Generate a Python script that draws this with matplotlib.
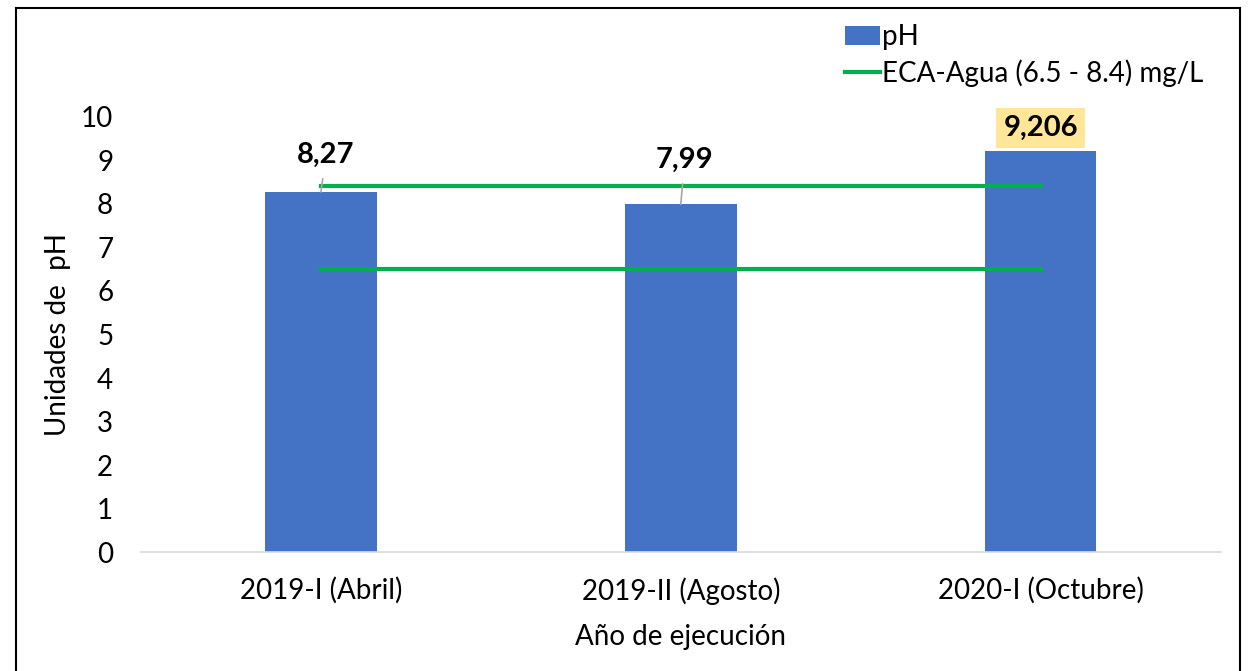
import matplotlib.pyplot as plt
from matplotlib.lines import Line2D

plt.rcParams['font.family'] = ['Lato', 'DejaVu Sans']

categories = ["2019-I (Abril)", "2019-II (Agosto)", "2020-I (Octubre)"]
ph_values = [8.27, 7.99, 9.206]
value_labels = ["8,27", "7,99", "9,206"]
eca_min = 6.5
eca_max = 8.4
y_ticks = list(range(0, 11))

BLUE = "#4472C4"
GREEN = "#00B050"

fig = plt.figure(figsize=(12.48, 6.71), dpi=100)
ax = fig.add_axes([0.113, 0.177, 0.865, 0.649])

x = list(range(len(categories)))
ax.bar(x, ph_values, width=0.31, color=BLUE, label="pH", zorder=2)

# ECA limits, from first to last category centre
ax.plot([x[0], x[-1]], [eca_max, eca_max], color=GREEN, lw=3,
        label="ECA-Agua (6.5 - 8.4) mg/L", zorder=3)
ax.plot([x[0], x[-1]], [eca_min, eca_min], color=GREEN, lw=3, zorder=3)

ax.set_xlim(-0.5, 2.5)
ax.set_ylim(0, 10)
ax.set_yticks(y_ticks)
ax.set_xticks(x)
ax.set_xticklabels(categories)
ax.tick_params(axis="both", length=0, labelsize=20, colors="#000000")
ax.tick_params(axis="y", pad=20)
ax.tick_params(axis="x", pad=18)
for side in ("top", "right", "left"):
    ax.spines[side].set_visible(False)
ax.spines["bottom"].set_color("#D9D9D9")
ax.spines["bottom"].set_linewidth(1.2)

ax.set_xlabel("Año de ejecución", fontsize=20, labelpad=14)
ax.set_ylabel("Unidades de  pH", fontsize=20, labelpad=7)

# data labels: first two with leader lines, last one highlighted
ax.annotate(value_labels[0], xy=(x[0], ph_values[0]),
            xytext=(x[0] + 0.014, ph_values[0] + 0.86),
            ha="center", va="center", fontsize=21, fontweight="bold",
            arrowprops=dict(arrowstyle="-", color="#A6A6A6", lw=1.2,
                            shrinkA=6, shrinkB=0), zorder=4)
ax.annotate(value_labels[1], xy=(x[1], ph_values[1]),
            xytext=(x[1] + 0.011, ph_values[1] + 1.02),
            ha="center", va="center", fontsize=21, fontweight="bold",
            arrowprops=dict(arrowstyle="-", color="#A6A6A6", lw=1.2,
                            shrinkA=6, shrinkB=0), zorder=4)
ax.text(x[2], ph_values[2] + 0.54, value_labels[2], ha="center",
        va="center", fontsize=21, fontweight="bold",
        bbox=dict(boxstyle="square,pad=0.25", fc="#FFE699", ec="none"))

handles, labels = ax.get_legend_handles_labels()
order = [labels.index("pH"), labels.index("ECA-Agua (6.5 - 8.4) mg/L")]
ax.legend([handles[i] for i in order], [labels[i] for i in order],
          loc="upper left", bbox_to_anchor=(0.652, 1.212), frameon=False,
          fontsize=20, handlelength=1.25, handletextpad=0.1,
          labelspacing=0.33, borderaxespad=0, borderpad=0)

# outer frame (left, top, right)
fw, fh = 1248, 671
xl, xr, yt = 16 / fw, 1240 / fw, 1 - 8 / fh
for xs, ys in [([xl, xl], [0, yt]), ([xl, xr], [yt, yt]), ([xr, xr], [yt, 0])]:
    fig.add_artist(Line2D(xs, ys, color="black", lw=1.5,
                          transform=fig.transFigure))

fig.savefig("out.png", dpi=100, facecolor="white")
